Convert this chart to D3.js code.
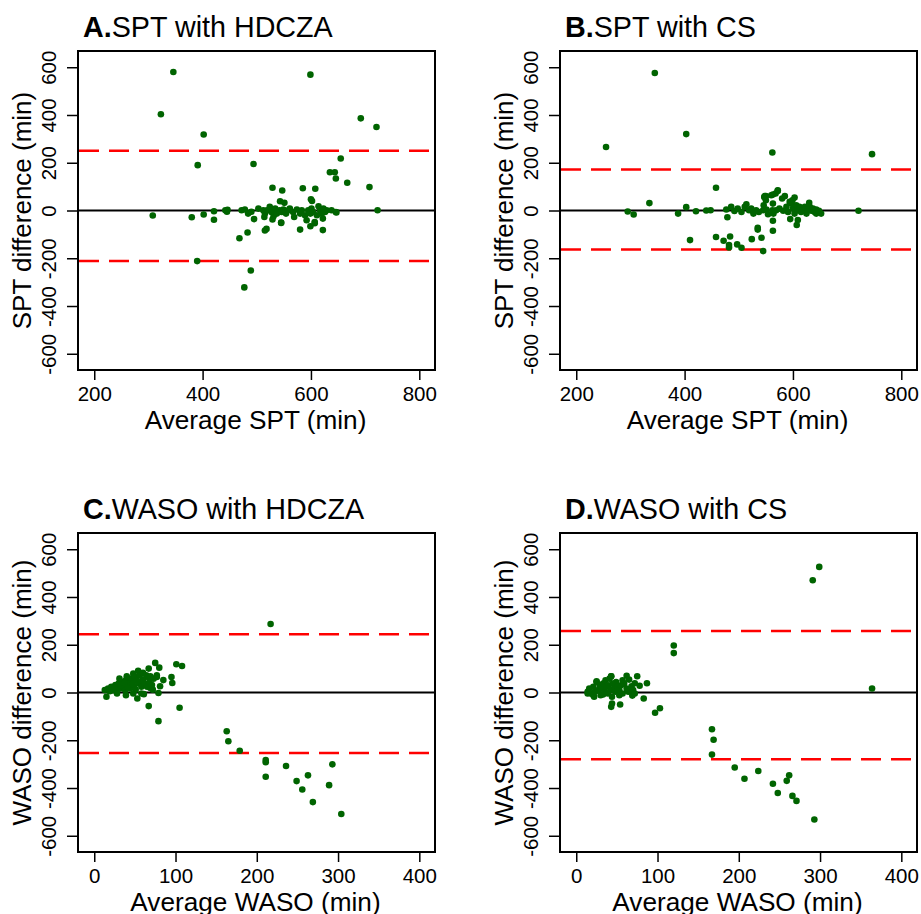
<!DOCTYPE html>
<html>
<head>
<meta charset="utf-8">
<title>Bland-Altman plots</title>
<script src="https://d3js.org/d3.v7.min.js"></script>
<style>
  body { margin: 0; background: #fff; }
  text { font-family: "Liberation Sans", Arial, Helvetica, sans-serif; fill: #000; }
</style>
</head>
<body>
<script>
// data: [average, difference] in minutes
var sptHdcza = [
  [346,580],[599,569],[323,403],[402,318],[692,386],[721,350],[391,190],[494,195],[655,218],[635,160],
  [644,160],[646,134],[667,116],[708,98],[723,1],[529,95],[547,84],[585,93],[608,91],[600,47],
  [602,40],[543,39],[551,32],[308,-21],[380,-28],[402,-17],[421,-3],[421,-39],[442,1],[446,3],
  [445,-5],[468,-116],[483,-92],[390,-212],[489,-251],[477,-322],[515,-84],[518,-77],[495,-36],[580,-80],
  [599,-66],[607,-53],[622,-82],[545,-52],[647,-8],[472,1],[478,4],[484,-13],[490,-5],[503,8],
  [512,1],[515,-13],[519,1],[524,15],[527,-6],[531,-24],[534,8],[537,-13],[542,1],[546,-6],
  [549,4],[554,-13],[558,1],[561,8],[567,-6],[569,-27],[574,4],[580,-13],[583,1],[589,-20],
  [592,-41],[595,1],[599,-13],[601,8],[604,-6],[607,-48],[611,-20],[614,18],[617,1],[620,-13],
  [623,8],[626,-6],[622,-34],[629,1],[638,1],[646,-6],[545,-50],[529,-38],[514,-27]
];
var sptCs = [
  [345,576],[255,266],[403,320],[562,243],[746,236],[458,95],[335,31],[295,-4],[306,-17],[388,-13],
  [403,14],[421,-3],[440,0],[448,1],[410,-124],[458,-111],[472,-127],[484,-109],[482,-145],[482,-155],
  [497,-142],[505,-156],[524,-120],[535,-80],[535,-72],[542,-114],[545,-170],[563,-85],[563,-43],[595,-36],
  [609,-40],[607,-61],[721,-1],[479,-28],[547,57],[550,60],[563,67],[572,85],[580,50],[585,60],
  [603,54],[630,32],[652,-13],[643,-13],[625,-13],
  [477,4],[486,15],[492,-2],[498,8],[505,-6],[511,15],[514,26],[519,1],[523,8],[527,-13],
  [532,1],[537,-6],[545,1],[546,22],[550,43],[551,4],[554,-16],[548,60],[562,1],[563,29],
  [564,-13],[560,64],[568,71],[572,82],[569,1],[575,8],[582,-1],[588,15],[591,-6],[597,29],
  [600,8],[603,-13],[606,22],[609,1],[612,15],[615,-6],[619,8],[622,15],[628,4],[631,15],
  [634,-1],[637,8],[640,-6],[643,4],[648,-1],[599,43],[594,36]
];
var wasoHdcza = [
  [217,287],[163,-162],[165,-204],[179,-244],[211,-283],[211,-292],[211,-353],[236,-308],[249,-371],[256,-406],
  [263,-347],[269,-459],[289,-388],[293,-301],[304,-509],[79,-120],[67,-57],[105,-64],[75,124],[80,104],
  [67,100],[101,118],[108,111],[95,65],[96,40],[85,52],[77,65],[81,26],[79,-2],[72,12],
  [69,19],[61,-7],[53,-25],[15,-18],
  [13,10],[17,17],[21,24],[23,10],[26,31],[28,12],[30,38],[31,58],[32,17],[34,45],
  [36,26],[38,10],[39,52],[40,68],[42,31],[44,17],[45,58],[46,45],[48,79],[49,26],
  [50,68],[51,12],[52,52],[54,91],[55,38],[56,72],[58,-4],[58,24],[60,82],[60,54],
  [62,38],[64,72],[65,24],[67,63],[68,45],[69,68],[71,31],[73,58],[77,72],[28,-4],
  [39,-11],[48,-4],[44,38],[19,5],[25,20],[33,30],[37,40],[41,22],[47,35],[53,48]
];
var wasoCs = [
  [299,526],[291,470],[364,17],[120,197],[120,165],[167,-154],[169,-198],[167,-260],[195,-314],[207,-361],
  [224,-329],[242,-382],[248,-421],[262,-347],[259,-370],[266,-433],[271,-454],[293,-532],[97,-85],[103,-66],
  [83,-25],[87,39],[75,68],[78,28],[72,39],[69,-13],[62,70],[54,-50],[43,-60],[44,-46],
  [43,68],[25,47],[14,-4],[22,-18],
  [14,3],[16,17],[18,-4],[21,24],[23,3],[25,44],[27,10],[29,30],[30,-11],[31,17],
  [33,37],[35,3],[36,51],[37,24],[39,-4],[40,30],[41,58],[42,10],[43,68],[44,-18],
  [45,37],[47,17],[48,3],[49,44],[51,24],[53,-11],[53,10],[55,30],[57,51],[57,-4],
  [59,37],[62,17],[64,3],[65,54],[68,26],[70,10],[72,-4],[21,-11],[33,-8]
];

// limits of agreement [upper, lower]
var loaSptHdcza = [250, -212];
var loaSptCs = [172, -163];
var loaWasoHdcza = [244, -253];
var loaWasoCs = [258, -280];

var sptTicks = [200, 400, 600, 800];
var wasoTicks = [0, 100, 200, 300, 400];
var diffTicks = [-600, -400, -200, 0, 200, 400, 600];

var width = 921, height = 914;
var pw = 357, ph = 319;

var svg = d3.select("body").append("svg")
  .attr("width", width)
  .attr("height", height);

// plain hyphen for negatives, like R
var fmt = function(d) { return String(d); };

function drawPanel(p) {
  var g = svg.append("g").attr("transform", "translate(" + p.left + "," + p.top + ")");

  var x = d3.scaleLinear().domain(p.xdom).range([0, pw]);
  var y = d3.scaleLinear().domain([-668, 668]).range([ph, 0]);

  // x ticks
  var xa = g.append("g").attr("transform", "translate(0," + ph + ")")
    .call(d3.axisBottom(x).tickValues(p.xticks).tickSize(10).tickFormat(fmt));
  xa.select(".domain").remove();
  xa.selectAll("line").attr("stroke", "#000").attr("stroke-width", 1.5);
  xa.selectAll("text").attr("font-size", 20.5).attr("dy", null).attr("y", 31);

  // y ticks, labels turned like R's las = 0
  var ya = g.append("g")
    .call(d3.axisLeft(y).tickValues(diffTicks).tickSize(11).tickFormat(fmt));
  ya.select(".domain").remove();
  ya.selectAll("line").attr("stroke", "#000").attr("stroke-width", 1.5);
  ya.selectAll("text")
    .attr("font-size", 20.5)
    .attr("text-anchor", "middle")
    .attr("x", null).attr("dy", null)
    .attr("transform", "translate(-22,0) rotate(-90)");

  // zero line
  g.append("line")
    .attr("x1", 0).attr("x2", pw)
    .attr("y1", y(0)).attr("y2", y(0))
    .attr("stroke", "#000").attr("stroke-width", 2);

  // limits of agreement
  g.selectAll(".loa").data(p.loa).enter().append("line")
    .attr("x1", 1).attr("x2", pw)
    .attr("y1", function(d) { return y(d); })
    .attr("y2", function(d) { return y(d); })
    .attr("stroke", "#ff0000").attr("stroke-width", 2.5)
    .attr("stroke-dasharray", "20,10");

  g.selectAll("circle").data(p.data).enter().append("circle")
    .attr("cx", function(d) { return x(d[0]); })
    .attr("cy", function(d) { return y(d[1]); })
    .attr("r", 3.3)
    .attr("fill", "#006400");

  // box
  g.append("rect")
    .attr("width", pw).attr("height", ph)
    .attr("fill", "none").attr("stroke", "#000").attr("stroke-width", 2);

  var t = g.append("text").attr("x", 5).attr("y", -14).attr("font-size", 28.7);
  t.append("tspan").attr("font-weight", "bold").text(p.letter);
  t.append("tspan").text(p.title);

  g.append("text")
    .attr("x", pw / 2 - 1).attr("y", ph + 59)
    .attr("text-anchor", "middle").attr("font-size", 26.2)
    .text(p.xlab);

  g.append("text")
    .attr("transform", "translate(-47.5," + (ph / 2) + ") rotate(-90)")
    .attr("text-anchor", "middle").attr("font-size", 26)
    .text(p.ylab);
}

drawPanel({ left: 78, top: 51, xdom: [170, 829], xticks: sptTicks, data: sptHdcza, loa: loaSptHdcza,
  letter: "A.", title: "SPT with HDCZA", xlab: "Average SPT (min)", ylab: "SPT difference (min)" });
drawPanel({ left: 560, top: 51, xdom: [170, 829], xticks: sptTicks, data: sptCs, loa: loaSptCs,
  letter: "B.", title: "SPT with CS", xlab: "Average SPT (min)", ylab: "SPT difference (min)" });
drawPanel({ left: 78, top: 533, xdom: [-20, 419.3], xticks: wasoTicks, data: wasoHdcza, loa: loaWasoHdcza,
  letter: "C.", title: "WASO with HDCZA", xlab: "Average WASO (min)", ylab: "WASO difference (min)" });
drawPanel({ left: 560, top: 533, xdom: [-20, 419.3], xticks: wasoTicks, data: wasoCs, loa: loaWasoCs,
  letter: "D.", title: "WASO with CS", xlab: "Average WASO (min)", ylab: "WASO difference (min)" });
</script>
</body>
</html>
